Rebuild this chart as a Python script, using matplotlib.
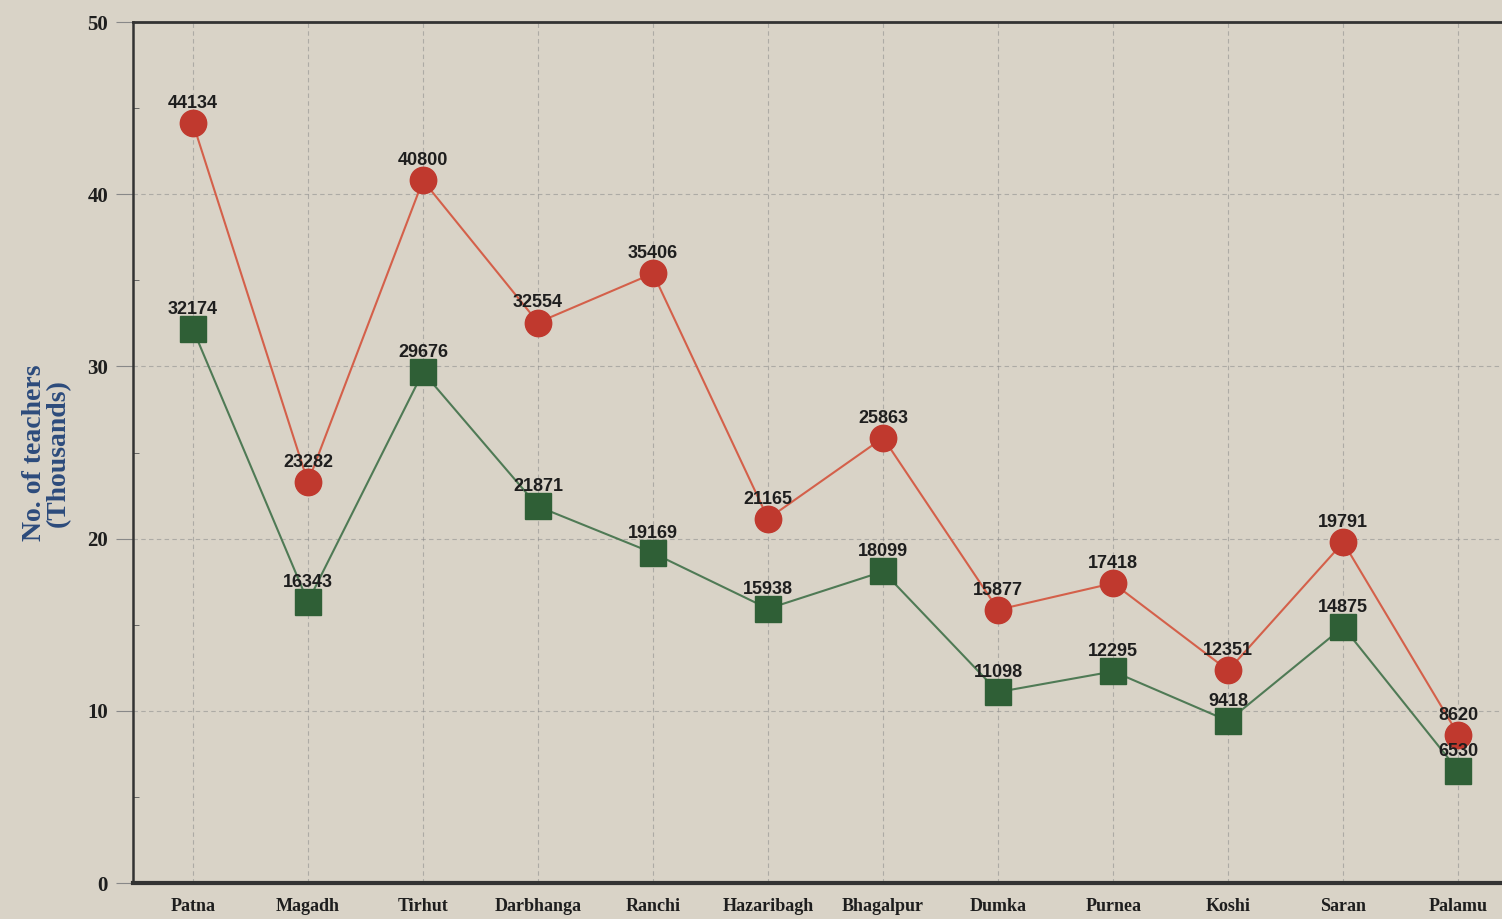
import numpy as np
import matplotlib.pyplot as plt
from matplotlib.ticker import MultipleLocator

# data (number of teachers)
divisions = ["Patna", "Magadh", "Tirhut", "Darbhanga", "Ranchi", "Hazaribagh",
             "Bhagalpur", "Dumka", "Purnea", "Koshi", "Saran", "Palamu"]
red_series = [44134, 23282, 40800, 32554, 35406, 21165, 25863, 15877, 17418, 12351, 19791, 8620]
green_series = [32174, 16343, 29676, 21871, 19169, 15938, 18099, 11098, 12295, 9418, 14875, 6530]

bg = "#d9d3c7"
fig = plt.figure(figsize=(15.02, 9.19), dpi=100, facecolor=bg)
ax = fig.add_axes([0.0886, 0.039, 0.9114, 0.937], facecolor=bg)

x = np.arange(len(divisions))
red_k = np.array(red_series) / 1000
green_k = np.array(green_series) / 1000

ax.plot(x, red_k, color="#d4604a", lw=1.5, marker="o", ms=19,
        mfc="#c0392e", mec="#c0392e", zorder=3)
ax.plot(x, green_k, color="#4f7a55", lw=1.5, marker="s", ms=19,
        mfc="#2f5f36", mec="#2f5f36", zorder=3)

# value labels
for xi, v in zip(x, red_series):
    ax.annotate(str(v), (xi, v / 1000), xytext=(0, 8), textcoords="offset points",
                ha="center", va="bottom", fontsize=13, fontweight="bold",
                family="Liberation Sans", color="#1e1e1e", zorder=4)
for xi, v in zip(x, green_series):
    ax.annotate(str(v), (xi, v / 1000), xytext=(0, 8), textcoords="offset points",
                ha="center", va="bottom", fontsize=13, fontweight="bold",
                family="Liberation Sans", color="#1e1e1e", zorder=4)

ax.set_xlim(-0.52, 11.38)
ax.set_ylim(0, 50)
ax.yaxis.set_major_locator(MultipleLocator(10))
ax.yaxis.set_minor_locator(MultipleLocator(5))
ax.set_xticks(x)
ax.set_xticklabels(divisions, family="Liberation Serif", fontweight="bold",
                   fontsize=13, color="#1e1e1e")
for lab in ax.get_yticklabels():
    lab.set_family("Liberation Serif")
    lab.set_fontweight("bold")
    lab.set_fontsize(15)
    lab.set_color("#1e1e1e")

ax.tick_params(axis="x", length=0, pad=11)
ax.tick_params(axis="y", which="major", length=12, color="#888888", pad=6)
ax.tick_params(axis="y", which="minor", length=4, color="#555555", direction="in")

ax.grid(True, which="major", color="#8a8a8a", lw=0.8, ls=(0, (4, 3)), alpha=0.55)
ax.set_axisbelow(True)

for side in ["left", "bottom", "top"]:
    ax.spines[side].set_color("#333333")
ax.spines["left"].set_linewidth(1.8)
ax.spines["bottom"].set_linewidth(3)
ax.spines["top"].set_linewidth(2)
ax.spines["right"].set_visible(False)

ax.set_ylabel("No. of teachers\n(Thousands)", family="Liberation Serif",
              fontweight="bold", fontsize=20, color="#2c4b7c", labelpad=12,
              linespacing=0.9)

fig.savefig("out.png", dpi=100, facecolor=bg)
